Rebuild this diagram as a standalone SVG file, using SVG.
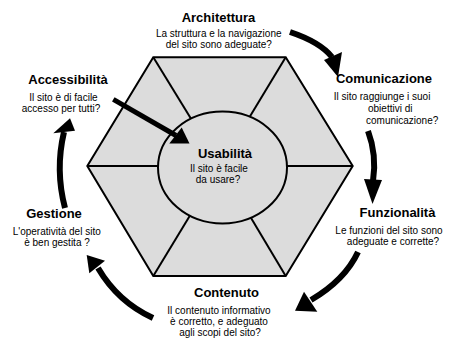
<svg xmlns="http://www.w3.org/2000/svg" width="456" height="339" viewBox="0 0 456 339">
<style>
text{font-family:"Liberation Sans",Arial,sans-serif;fill:#000}
.h{font-size:13px;font-weight:bold}
.b{font-size:10px}
.m{text-anchor:middle}
.hex{fill:#dcdcdc;stroke:#000;stroke-width:2;stroke-linejoin:miter}
.sp{stroke:#000;stroke-width:2}
.sh{fill:none;stroke:#000;stroke-width:6}
.hd{fill:#000}
</style>
<g id="hexagon">
<polygon class="hex" points="153.3,57.3 285.7,57.3 352.7,166 285.7,276 153.3,276 87.3,166"/>
<line class="sp" x1="153.3" y1="57.3" x2="220" y2="166"/>
<line class="sp" x1="285.7" y1="57.3" x2="220" y2="166"/>
<line class="sp" x1="352.7" y1="166" x2="220" y2="166"/>
<line class="sp" x1="285.7" y1="276" x2="220" y2="166"/>
<line class="sp" x1="153.3" y1="276" x2="220" y2="166"/>
<line class="sp" x1="87.3" y1="166" x2="220" y2="166"/>
</g>
<g id="usabilita">
<ellipse cx="222.5" cy="167.5" rx="64.5" ry="56" fill="#dcdcdc" stroke="#000" stroke-width="2"/>
<text class="h m" x="225" y="158">Usabilità</text>
<text class="b m" x="219" y="172">Il sito è facile</text>
<text class="b m" x="218" y="183">da usare?</text>
</g>
<g id="architettura">
<text class="h m" x="218.5" y="22">Architettura</text>
<text class="b m" x="218.7" y="37">La struttura e la navigazione</text>
<text class="b m" x="218.8" y="48">del sito sono adeguate?</text>
</g>
<g id="accessibilita">
<text class="h m" x="68" y="84">Accessibilità</text>
<text class="b m" x="63.5" y="101">Il sito è di facile</text>
<text class="b m" x="61" y="112">accesso per tutti?</text>
</g>
<g id="comunicazione">
<text class="h m" x="384" y="83">Comunicazione</text>
<text class="b m" x="382" y="100">Il sito raggiunge i suoi</text>
<text class="b" x="368" y="112">obiettivi di</text>
<text class="b" x="366" y="124">comunicazione?</text>
</g>
<g id="funzionalita">
<text class="h m" x="397.5" y="217">Funzionalità</text>
<text class="b m" x="389" y="234">Le funzioni del sito sono</text>
<text class="b m" x="393" y="245">adeguate e corrette?</text>
</g>
<g id="contenuto">
<text class="h m" x="226.5" y="297">Contenuto</text>
<text class="b m" x="219" y="314">Il contenuto informativo</text>
<text class="b m" x="219" y="325">è corretto, e adeguato</text>
<text class="b m" x="220" y="336">agli scopi del sito?</text>
</g>
<g id="gestione">
<text class="h m" x="54" y="218">Gestione</text>
<text class="b m" x="56.7" y="235">L'operatività del sito</text>
<text class="b m" x="57" y="246">è ben gestita ?</text>
</g>
<g id="connectors">
<path class="sh" d="M290 32 Q320 42 332 57"/>
<polygon class="hd" points="324,60 342,52 338,77"/>
<path class="sh" d="M368 131 Q377 155 373 181"/>
<polygon class="hd" points="364,179 382,180 372.5,204"/>
<path class="sh" d="M358 252 Q345 280 311 300"/>
<polygon class="hd" points="304,291.7 317.3,311.7 295,310.7"/>
<path class="sh" d="M153 318 Q118 302 98 268"/>
<polygon class="hd" points="89.3,273.3 105,260.7 86.7,255"/>
<path class="sh" d="M65 208 Q55 170 64 132"/>
<polygon class="hd" points="53.3,133.3 75,130.7 70,118.3"/>
<line x1="113.3" y1="99.3" x2="176" y2="135.5" stroke="#000" stroke-width="5"/>
<polygon class="hd" points="181.7,127.5 169.3,143.5 189.5,143.5"/>
</g>
</svg>
